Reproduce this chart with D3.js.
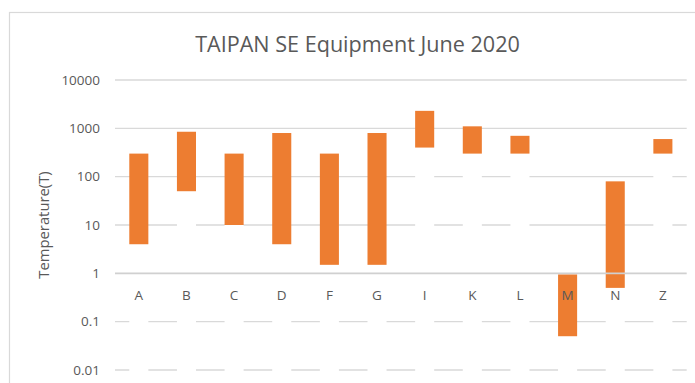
<!DOCTYPE html>
<html>
<head>
<meta charset="utf-8">
<script src="https://cdn.jsdelivr.net/npm/d3@7"></script>
<style>
  html, body { margin: 0; padding: 0; background: #fff; }
  svg { display: block; }
</style>
</head>
<body>
<svg id="chart" width="695" height="383"></svg>
<script>
// Equipment temperature ranges (low / high) per unit
const categories = ["A", "B", "C", "D", "F", "G", "I", "K", "L", "M", "N", "Z"];
const lowValues  = [4, 50, 10, 4, 1.5, 1.5, 400, 300, 300, 0.05, 0.5, 300];
const highValues = [300, 850, 300, 800, 300, 800, 2300, 1100, 700, 0.95, 80, 600];
const tickValues = [0.01, 0.1, 1, 10, 100, 1000, 10000];
const tickLabels = ["0.01", "0.1", "1", "10", "100", "1000", "10000"];

const titleText = "TAIPAN SE Equipment June 2020";
const yTitle = "Temperature(T)";

const svg = d3.select("#chart");
const W = 695, H = 383;
const plot = { left: 115, right: 686.7, top: 80, bottom: 370 };
const textColor = "#595959";
const gridColor = "#d9d9d9";
const barColor = "#ED7D31";
const font = "'Open Sans', 'Liberation Sans', sans-serif";

// Chart area outline
svg.append("rect")
  .attr("x", 9.5).attr("y", 12.5)
  .attr("width", W + 10).attr("height", H + 10)
  .attr("fill", "#fff")
  .attr("stroke", "#d9d9d9").attr("stroke-width", 1.2);

const x = d3.scaleBand()
  .domain(categories)
  .range([plot.left, plot.right])
  .paddingInner(0.6)
  .paddingOuter(0.3);

const y = d3.scaleLog()
  .domain([0.01, 10000])
  .range([plot.bottom, plot.top]);

// Horizontal gridlines
svg.append("g")
  .selectAll("line")
  .data(tickValues.filter(v => v !== 1))
  .join("line")
  .attr("x1", plot.left).attr("x2", plot.right)
  .attr("y1", d => y(d)).attr("y2", d => y(d))
  .attr("stroke", gridColor).attr("stroke-width", 1.3);

// Y tick labels
const yAxis = d3.axisLeft(y)
  .tickValues(tickValues)
  .tickFormat((d, i) => tickLabels[i])
  .tickSize(0)
  .tickPadding(0);
const gy = svg.append("g")
  .attr("transform", `translate(${plot.left - 15},0)`)
  .call(yAxis);
gy.select(".domain").remove();
gy.selectAll("text")
  .attr("fill", textColor)
  .style("font-family", font)
  .style("font-size", "13.5px");

const bars = categories.map((c, i) => ({ c, low: lowValues[i], high: highValues[i] }));

// Base segments (white) from the axis floor up to the low value
svg.append("g")
  .selectAll("rect")
  .data(bars)
  .join("rect")
  .attr("x", d => x(d.c))
  .attr("width", x.bandwidth())
  .attr("y", d => y(d.low))
  .attr("height", d => plot.bottom + 3 - y(d.low))
  .attr("fill", "#fff");

// Range segments
svg.append("g")
  .selectAll("rect")
  .data(bars)
  .join("rect")
  .attr("x", d => x(d.c))
  .attr("width", x.bandwidth())
  .attr("y", d => y(d.high))
  .attr("height", d => y(d.low) - y(d.high))
  .attr("fill", barColor);

// Category axis crossing at 1
svg.append("line")
  .attr("x1", plot.left).attr("x2", plot.right)
  .attr("y1", y(1)).attr("y2", y(1))
  .attr("stroke", "#d0d0d0").attr("stroke-width", 1.6);

const xAxis = d3.axisBottom(x).tickSize(0).tickPadding(0);
const gx = svg.append("g")
  .attr("transform", `translate(0,${y(1) + 27})`)
  .call(xAxis);
gx.select(".domain").remove();
gx.selectAll("text")
  .attr("dy", 0)
  .attr("fill", textColor)
  .style("font-family", font)
  .style("font-size", "13.5px");

// Title
svg.append("text")
  .attr("x", 357.5).attr("y", 52)
  .attr("text-anchor", "middle")
  .attr("fill", textColor)
  .style("font-family", font)
  .style("font-size", "21.6px")
  .text(titleText);

// Y axis title
svg.append("text")
  .attr("transform", "translate(49,225) rotate(-90)")
  .attr("text-anchor", "middle")
  .attr("fill", textColor)
  .style("font-family", font)
  .style("font-size", "14.8px")
  .text(yTitle);
</script>
</body>
</html>
